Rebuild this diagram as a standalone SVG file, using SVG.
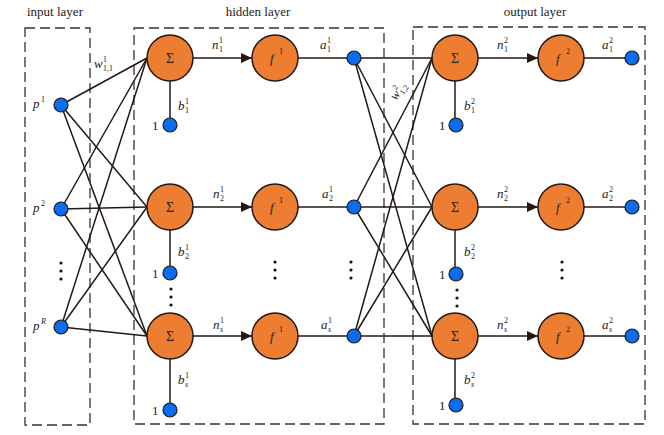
<svg xmlns="http://www.w3.org/2000/svg" width="664" height="435" viewBox="0 0 664 435">
<defs>
<marker id="arr" markerWidth="12" markerHeight="10" refX="11" refY="5" orient="auto" markerUnits="userSpaceOnUse">
<path d="M0,0 L11,5 L0,10 Z" fill="#231815"/>
</marker>
<style>
.box{fill:none;stroke:#333;stroke-width:1.3;stroke-dasharray:10,5}
.ln{stroke:#231815;stroke-width:1.5;fill:none}
.sum{fill:#ED7D31;stroke:#231815;stroke-width:1.5}
.blue{fill:#0A6CF0;stroke:#231815;stroke-width:1.2}
.dot{fill:#111}
text{font-family:"Liberation Serif","Times New Roman",serif;fill:#222}
.t{font-size:13px}
.m{font-size:13px;font-style:italic}
.s{font-size:8px}
.si{font-size:8px;font-style:italic}
.sg{font-size:14px}
</style>
</defs>
<rect width="664" height="435" fill="#fff"/>

<g id="boxes">
<rect class="box" x="25" y="28" width="65" height="397"/>
<rect class="box" x="134" y="28" width="250" height="396"/>
<rect class="box" x="413" y="27" width="232" height="397"/>
<text class="t" x="27" y="16">input layer</text>
<text class="t" x="258" y="16" text-anchor="middle">hidden layer</text>
<text class="t" x="535" y="16" text-anchor="middle">output layer</text>
</g>

<g id="connectors">
<!-- input to hidden sums -->
<line class="ln" x1="61" y1="105" x2="147" y2="58"/>
<line class="ln" x1="61" y1="105" x2="147" y2="207"/>
<line class="ln" x1="61" y1="105" x2="147" y2="336"/>
<line class="ln" x1="61" y1="209" x2="147" y2="58"/>
<line class="ln" x1="61" y1="209" x2="147" y2="207"/>
<line class="ln" x1="61" y1="209" x2="147" y2="336"/>
<line class="ln" x1="61" y1="327" x2="147" y2="58"/>
<line class="ln" x1="61" y1="327" x2="147" y2="207"/>
<line class="ln" x1="61" y1="327" x2="147" y2="336"/>
<!-- hidden a to output sums -->
<line class="ln" x1="354" y1="58" x2="432" y2="58"/>
<line class="ln" x1="354" y1="58" x2="432" y2="207"/>
<line class="ln" x1="354" y1="58" x2="432" y2="336"/>
<line class="ln" x1="354" y1="207" x2="432" y2="58"/>
<line class="ln" x1="354" y1="207" x2="432" y2="207"/>
<line class="ln" x1="354" y1="207" x2="432" y2="336"/>
<line class="ln" x1="354" y1="336" x2="432" y2="58"/>
<line class="ln" x1="354" y1="336" x2="432" y2="207"/>
<line class="ln" x1="354" y1="336" x2="432" y2="336"/>
<!-- sum to f arrows -->
<line class="ln" x1="193" y1="58" x2="252" y2="58" marker-end="url(#arr)"/>
<line class="ln" x1="193" y1="207" x2="252" y2="207" marker-end="url(#arr)"/>
<line class="ln" x1="193" y1="336" x2="252" y2="336" marker-end="url(#arr)"/>
<line class="ln" x1="478" y1="58" x2="538" y2="58" marker-end="url(#arr)"/>
<line class="ln" x1="478" y1="207" x2="538" y2="207" marker-end="url(#arr)"/>
<line class="ln" x1="478" y1="336" x2="538" y2="336" marker-end="url(#arr)"/>
<!-- f to a -->
<line class="ln" x1="298" y1="58" x2="354" y2="58"/>
<line class="ln" x1="298" y1="207" x2="354" y2="207"/>
<line class="ln" x1="298" y1="336" x2="354" y2="336"/>
<line class="ln" x1="584" y1="58" x2="632" y2="58"/>
<line class="ln" x1="584" y1="207" x2="632" y2="207"/>
<line class="ln" x1="584" y1="336" x2="632" y2="336"/>
<!-- bias -->
<line class="ln" x1="170" y1="81" x2="170" y2="125"/>
<line class="ln" x1="170" y1="230" x2="170" y2="273"/>
<line class="ln" x1="170" y1="359" x2="170" y2="410"/>
<line class="ln" x1="455" y1="81" x2="455" y2="125"/>
<line class="ln" x1="455" y1="230" x2="455" y2="274"/>
<line class="ln" x1="455" y1="359" x2="455" y2="405"/>
</g>

<g id="inputs">
<circle class="blue" cx="61" cy="105" r="7"/>
<circle class="blue" cx="61" cy="209" r="7"/>
<circle class="blue" cx="61" cy="327" r="7"/>
<text class="m" x="33" y="108">p</text><text class="s" x="41" y="102">1</text>
<text class="m" x="33" y="212">p</text><text class="s" x="41" y="206">2</text>
<text class="m" x="33" y="330">p</text><text class="si" x="41" y="324">R</text>
<circle class="dot" cx="61" cy="263" r="1.6"/>
<circle class="dot" cx="61" cy="271" r="1.6"/>
<circle class="dot" cx="61" cy="279" r="1.6"/>
<text class="m" x="94" y="68">w</text><text class="s" x="103" y="62">1</text><text class="s" x="103" y="71">1,1</text>
</g>

<g id="hidden-sums">
<circle class="sum" cx="170" cy="58" r="23"/>
<circle class="sum" cx="170" cy="207" r="23"/>
<circle class="sum" cx="170" cy="336" r="23"/>
<text class="sg" x="170" y="63" text-anchor="middle">Σ</text>
<text class="sg" x="170" y="212" text-anchor="middle">Σ</text>
<text class="sg" x="170" y="341" text-anchor="middle">Σ</text>
</g>

<g id="hidden-bias">
<circle class="blue" cx="170" cy="125" r="7"/>
<circle class="blue" cx="170" cy="273" r="7"/>
<circle class="blue" cx="170" cy="410" r="7"/>
<text class="t" x="152" y="130">1</text>
<text class="t" x="152" y="278">1</text>
<text class="t" x="152" y="415">1</text>
<text class="m" x="178" y="110">b</text><text class="s" x="185" y="104">1</text><text class="s" x="185" y="113">1</text>
<text class="m" x="178" y="256">b</text><text class="s" x="185" y="250">1</text><text class="s" x="185" y="259">2</text>
<text class="m" x="178" y="384">b</text><text class="s" x="185" y="378">1</text><text class="si" x="185" y="387">s</text>
<circle class="dot" cx="171" cy="289" r="1.6"/>
<circle class="dot" cx="171" cy="297" r="1.6"/>
<circle class="dot" cx="171" cy="305" r="1.6"/>
</g>

<g id="hidden-f">
<circle class="sum" cx="275" cy="58" r="23"/>
<circle class="sum" cx="275" cy="207" r="23"/>
<circle class="sum" cx="275" cy="336" r="23"/>
<text class="m" x="270" y="63">f</text><text class="s" x="279" y="54">1</text>
<text class="m" x="270" y="212">f</text><text class="s" x="279" y="203">1</text>
<text class="m" x="270" y="341">f</text><text class="s" x="279" y="332">1</text>
<text class="m" x="212" y="49">n</text><text class="s" x="219" y="43">1</text><text class="s" x="219" y="52">1</text>
<text class="m" x="213" y="198">n</text><text class="s" x="220" y="192">1</text><text class="s" x="220" y="201">2</text>
<text class="m" x="213" y="329">n</text><text class="s" x="220" y="323">1</text><text class="si" x="220" y="332">s</text>
<circle class="dot" cx="275" cy="262" r="1.6"/>
<circle class="dot" cx="275" cy="270" r="1.6"/>
<circle class="dot" cx="275" cy="278" r="1.6"/>
</g>

<g id="hidden-out">
<circle class="blue" cx="354" cy="58" r="7"/>
<circle class="blue" cx="354" cy="207" r="7"/>
<circle class="blue" cx="354" cy="336" r="7"/>
<text class="m" x="320" y="49">a</text><text class="s" x="327" y="43">1</text><text class="s" x="327" y="52">1</text>
<text class="m" x="322" y="198">a</text><text class="s" x="329" y="192">1</text><text class="s" x="329" y="201">2</text>
<text class="m" x="321" y="329">a</text><text class="s" x="328" y="323">1</text><text class="si" x="328" y="332">s</text>
<circle class="dot" cx="351" cy="262" r="1.6"/>
<circle class="dot" cx="351" cy="270" r="1.6"/>
<circle class="dot" cx="351" cy="278" r="1.6"/>
<g transform="translate(396,101) rotate(-55)">
<text class="m" x="0" y="0">w</text><text class="s" x="9" y="-6">2</text><text class="s" x="9" y="3">1,2</text>
</g>
</g>

<g id="output-sums">
<circle class="sum" cx="455" cy="58" r="23"/>
<circle class="sum" cx="455" cy="207" r="23"/>
<circle class="sum" cx="455" cy="336" r="23"/>
<text class="sg" x="455" y="63" text-anchor="middle">Σ</text>
<text class="sg" x="455" y="212" text-anchor="middle">Σ</text>
<text class="sg" x="455" y="341" text-anchor="middle">Σ</text>
</g>

<g id="output-bias">
<circle class="blue" cx="456" cy="125" r="7"/>
<circle class="blue" cx="456" cy="274" r="7"/>
<circle class="blue" cx="456" cy="405" r="7"/>
<text class="t" x="439" y="130">1</text>
<text class="t" x="439" y="279">1</text>
<text class="t" x="439" y="410">1</text>
<text class="m" x="464" y="110">b</text><text class="s" x="471" y="104">2</text><text class="s" x="471" y="113">1</text>
<text class="m" x="464" y="256">b</text><text class="s" x="471" y="250">2</text><text class="s" x="471" y="259">2</text>
<text class="m" x="464" y="384">b</text><text class="s" x="471" y="378">2</text><text class="si" x="471" y="387">s</text>
<circle class="dot" cx="457" cy="290" r="1.6"/>
<circle class="dot" cx="457" cy="298" r="1.6"/>
<circle class="dot" cx="457" cy="306" r="1.6"/>
</g>

<g id="output-f">
<circle class="sum" cx="561" cy="58" r="23"/>
<circle class="sum" cx="561" cy="207" r="23"/>
<circle class="sum" cx="561" cy="336" r="23"/>
<text class="m" x="556" y="63">f</text><text class="s" x="566" y="54">2</text>
<text class="m" x="556" y="212">f</text><text class="s" x="566" y="203">2</text>
<text class="m" x="556" y="341">f</text><text class="s" x="566" y="332">2</text>
<text class="m" x="497" y="49">n</text><text class="s" x="504" y="43">2</text><text class="s" x="504" y="52">1</text>
<text class="m" x="497" y="198">n</text><text class="s" x="504" y="192">2</text><text class="s" x="504" y="201">2</text>
<text class="m" x="497" y="329">n</text><text class="s" x="504" y="323">2</text><text class="si" x="504" y="332">s</text>
<circle class="dot" cx="562" cy="262" r="1.6"/>
<circle class="dot" cx="562" cy="270" r="1.6"/>
<circle class="dot" cx="562" cy="278" r="1.6"/>
</g>

<g id="outputs">
<circle class="blue" cx="632" cy="58" r="7"/>
<circle class="blue" cx="632" cy="207" r="7"/>
<circle class="blue" cx="632" cy="336" r="7"/>
<text class="m" x="602" y="49">a</text><text class="s" x="609" y="43">2</text><text class="s" x="609" y="52">1</text>
<text class="m" x="602" y="198">a</text><text class="s" x="609" y="192">2</text><text class="s" x="609" y="201">2</text>
<text class="m" x="602" y="329">a</text><text class="s" x="609" y="323">2</text><text class="si" x="609" y="332">s</text>
</g>
</svg>
